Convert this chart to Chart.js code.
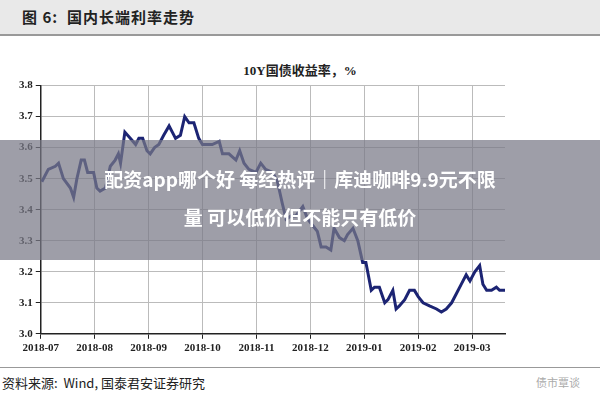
<!DOCTYPE html>
<html><head><meta charset="utf-8">
<script src="https://cdn.jsdelivr.net/npm/chart.js@4"></script>
<style>
body{margin:0;width:600px;height:400px;background:#fff;position:relative;overflow:hidden;font-family:"Noto Sans CJK SC";}
#hdr{position:absolute;left:0;top:0;width:600px;height:34px;background:#e9e9e9;}
#hdr span{position:absolute;left:22px;top:6px;font-family:"Noto Sans CJK SC";font-weight:bold;font-size:15px;color:#222;letter-spacing:1px}
#hline{position:absolute;left:0;top:34px;width:600px;height:2px;background:#999}
#ttl{position:absolute;left:0;width:600px;top:60px;text-align:center;font-family:"Liberation Serif","Noto Sans CJK SC";font-weight:bold;font-size:13px;color:#222}
#cw{position:absolute;left:0;top:76px;width:600px;height:284px}
#foot{position:absolute;left:0;top:367px;width:600px;height:33px;border-top:1px solid #999}
#foot span{position:absolute;left:2px;top:5px;font-size:13px;color:#222;font-family:"Noto Sans CJK SC"}
#wm{position:absolute;right:20px;top:6px;font-size:11px;color:#aaa}
#ban{position:absolute;left:0;top:140px;width:600px;height:120px;background:rgba(120,120,135,0.72);color:#fff;font-weight:bold;font-size:19px;line-height:38px;text-align:center;padding-top:20px;box-sizing:border-box;font-family:"Noto Sans CJK SC"}
</style></head><body>
<div id="hdr"><span>图 6:&nbsp;&nbsp;国内长端利率走势</span></div><div id="hline"></div>
<div id="ttl">10Y国债收益率，%</div>
<div id="cw"><canvas id="c"></canvas></div>
<div id="foot"><span>资料来源:&nbsp;&nbsp;Wind,&nbsp;国泰君安证券研究</span><div id="wm">债市覃谈</div></div>
<div id="ban">配资app哪个好 每经热评｜库迪咖啡9.9元不限<br>量 可以低价但不能只有低价</div>
<script>
const monthLabels=["2018-07","2018-08","2018-09","2018-10","2018-11","2018-12","2019-01","2019-02","2019-03"];
const xMonths=[0.02,0.14,0.27,0.33,0.42,0.55,0.61,0.67,0.75,0.81,0.87,0.98,1.04,1.10,1.20,1.29,1.38,1.44,1.48,1.56,1.66,1.76,1.82,1.89,1.97,2.03,2.11,2.19,2.28,2.38,2.44,2.50,2.59,2.67,2.75,2.84,2.93,3.00,3.18,3.31,3.37,3.49,3.62,3.69,3.77,3.86,3.99,4.08,4.17,4.30,4.39,4.48,4.55,4.64,4.73,4.86,4.95,5.04,5.13,5.20,5.29,5.38,5.44,5.54,5.63,5.69,5.79,5.88,5.97,6.03,6.13,6.19,6.28,6.38,6.44,6.53,6.59,6.65,6.75,6.84,6.93,7.00,7.09,7.21,7.34,7.43,7.52,7.62,7.71,7.80,7.89,7.96,8.05,8.14,8.20,8.27,8.36,8.45,8.51,8.61];
const yields=[3.49,3.53,3.54,3.55,3.50,3.47,3.44,3.50,3.56,3.56,3.52,3.52,3.47,3.46,3.47,3.54,3.56,3.58,3.55,3.65,3.63,3.61,3.63,3.63,3.59,3.58,3.60,3.61,3.64,3.67,3.65,3.63,3.64,3.70,3.68,3.68,3.63,3.61,3.61,3.62,3.58,3.58,3.56,3.59,3.55,3.53,3.52,3.55,3.53,3.52,3.49,3.42,3.37,3.38,3.38,3.41,3.37,3.35,3.33,3.28,3.28,3.27,3.34,3.31,3.30,3.32,3.34,3.30,3.23,3.23,3.14,3.15,3.15,3.10,3.11,3.14,3.08,3.09,3.11,3.14,3.14,3.12,3.10,3.09,3.08,3.07,3.08,3.10,3.13,3.16,3.19,3.17,3.20,3.22,3.16,3.14,3.14,3.15,3.14,3.14];
const yTicks=[3.0,3.1,3.2,3.3,3.4,3.5,3.6,3.7,3.8];
const tf={family:"Liberation Serif",weight:"bold",size:11};
new Chart(document.getElementById('c'),{type:'line',
data:{datasets:[{data:xMonths.map((x,i)=>({x,y:yields[i]})),borderColor:'#1c2473',borderWidth:3,pointRadius:0,tension:0}]},
options:{responsive:true,maintainAspectRatio:false,animation:false,
layout:{padding:{left:16,right:95,top:6,bottom:2}},
plugins:{legend:{display:false},tooltip:{enabled:false}},
scales:{
x:{type:'linear',min:0,max:8.61,afterBuildTicks:a=>{a.ticks=monthLabels.map((_,i)=>({value:i}));},
ticks:{callback:v=>monthLabels[v],color:'#222',font:tf,maxRotation:0,autoSkip:false},
grid:{color:'#bbb',borderDash:[2,3],drawTicks:true,tickLength:5,tickColor:'#222'},border:{color:'#222',width:1.5}},
y:{min:3.0,max:3.8,afterBuildTicks:a=>{a.ticks=yTicks.map(v=>({value:v}));},
ticks:{callback:v=>v.toFixed(1),color:'#222',font:tf},
grid:{color:'#bbb',borderDash:[2,3],tickLength:5,tickColor:'#222'},border:{color:'#222',width:1.5}}
}}});
</script></body></html>
